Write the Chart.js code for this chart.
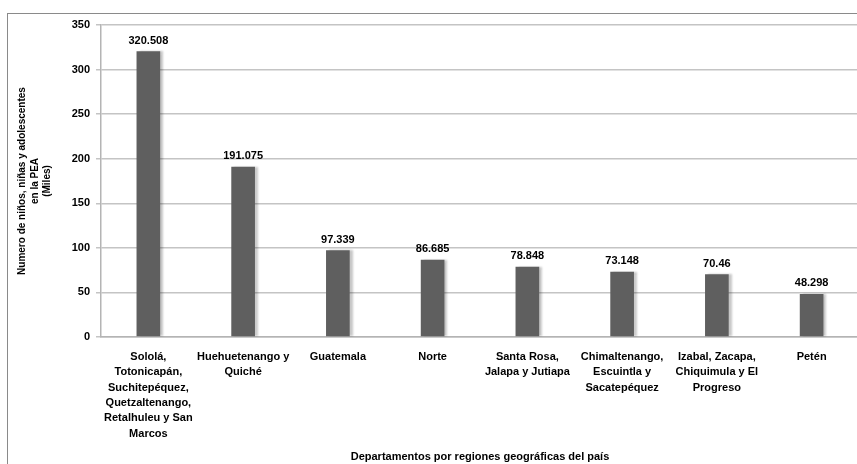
<!DOCTYPE html>
<html>
<head>
<meta charset="utf-8">
<script src="https://cdn.jsdelivr.net/npm/chart.js@4"></script>
<style>
  html, body { margin: 0; padding: 0; background: #fff; overflow: hidden; }
  #wrap { position: relative; width: 866px; height: 464px; }
  #frame { position: absolute; left: 7px; top: 13px; width: 900px; height: 500px;
           border-left: 1px solid #8a8a8a; border-top: 1px solid #8a8a8a; pointer-events: none; }
</style>
</head>
<body>
<div id="wrap">
  <canvas id="c" width="866" height="464"></canvas>
  <div id="frame"></div>
</div>
<script>
const categories = [
  ["Sololá,", "Totonicapán,", "Suchitepéquez,", "Quetzaltenango,", "Retalhuleu y San", "Marcos"],
  ["Huehuetenango y", "Quiché"],
  ["Guatemala"],
  ["Norte"],
  ["Santa Rosa,", "Jalapa y Jutiapa"],
  ["Chimaltenango,", "Escuintla y", "Sacatepéquez"],
  ["Izabal, Zacapa,", "Chiquimula y El", "Progreso"],
  ["Petén"]
];
const values = [320.508, 191.075, 97.339, 86.685, 78.848, 73.148, 70.46, 48.298];
const valueLabels = ["320.508", "191.075", "97.339", "86.685", "78.848", "73.148", "70.46", "48.298"];
const yTicks = [0, 50, 100, 150, 200, 250, 300, 350];
const yTitle = ["Numero de niños, niñas y adolescentes", "en la PEA", "(Miles)"];
const xTitle = "Departamentos por regiones geográficas del país";

const FONT = "'Liberation Sans Narrow', 'Liberation Sans', Arial, sans-serif";

const shadowPlugin = {
  id: 'barShadow',
  beforeDatasetDraw(chart) {
    const ctx = chart.ctx;
    ctx.save();
    ctx.shadowColor = 'rgba(0,0,0,0.22)';
    ctx.shadowOffsetX = 3;
    ctx.shadowOffsetY = 0;
    ctx.shadowBlur = 2;
  },
  afterDatasetDraw(chart) {
    chart.ctx.restore();
  }
};

const labelPlugin = {
  id: 'valueLabels',
  afterDatasetsDraw(chart) {
    const ctx = chart.ctx;
    const meta = chart.getDatasetMeta(0);
    ctx.save();
    ctx.font = "bold 11px " + FONT;
    ctx.fillStyle = '#000';
    ctx.textAlign = 'center';
    ctx.textBaseline = 'bottom';
    meta.data.forEach((bar, i) => {
      ctx.fillText(valueLabels[i], bar.x, bar.y - 5);
    });
    ctx.restore();
  }
};

new Chart(document.getElementById('c'), {
  type: 'bar',
  data: {
    labels: categories,
    datasets: [{
      data: values,
      backgroundColor: '#5f5f5f',
      borderWidth: 0,
      barPercentage: 0.25,
      categoryPercentage: 1.0
    }]
  },
  options: {
    responsive: false,
    animation: false,
    events: [],
    layout: { padding: { left: 16, right: 7, top: 25, bottom: 0 } },
    plugins: { legend: { display: false }, tooltip: { enabled: false } },
    scales: {
      x: {
        grid: { display: false, drawTicks: false },
        border: { color: '#b4b4b4', width: 1.5 },
        ticks: {
          color: '#000',
          font: { family: FONT, size: 11, weight: 'bold', lineHeight: 1.4 },
          maxRotation: 0, minRotation: 0, autoSkip: false, padding: 12
        },
        title: {
          display: true, text: xTitle, color: '#000',
          font: { family: FONT, size: 11, weight: 'bold' },
          padding: { top: 4, bottom: 0 }
        },
        afterFit(scale) { scale.height = 127; }
      },
      y: {
        min: 0, max: 350,
        afterBuildTicks(scale) { scale.ticks = yTicks.map(v => ({ value: v })); },
        grid: { color: '#c4c4c4', lineWidth: 1.5, tickLength: 5 },
        border: { color: '#b4b4b4', width: 1.5 },
        ticks: {
          color: '#000',
          font: { family: FONT, size: 11, weight: 'bold' },
          padding: 6
        },
        title: {
          display: true, text: yTitle, color: '#000',
          font: { family: FONT, size: 10, weight: 'bold', lineHeight: 1.25 },
          padding: { top: 0, bottom: 10 }
        },
        afterFit(scale) { scale.width = 85; }
      }
    }
  },
  plugins: [shadowPlugin, labelPlugin]
});
</script>
</body>
</html>
